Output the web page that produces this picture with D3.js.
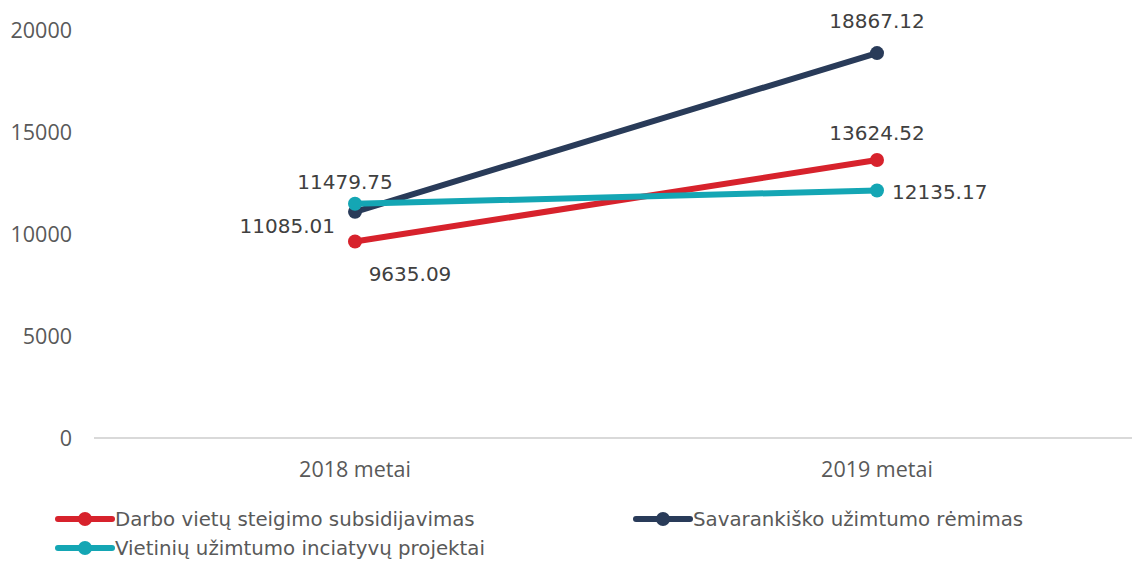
<!DOCTYPE html>
<html>
<head>
<meta charset="utf-8">
<script src="https://cdn.jsdelivr.net/npm/d3@7"></script>
<style>
  body { margin: 0; background: #fff; }
  .tick-label { font-family: "Open Sans", sans-serif; font-size: 21.5px; fill: #595959; }
  .data-label { font-family: "DejaVu Sans", sans-serif; font-size: 20px; fill: #404040; }
  .legend-label { font-family: "DejaVu Sans", sans-serif; font-size: 19.8px; fill: #595959; }
</style>
</head>
<body>
<svg id="chart" width="1132" height="562"></svg>
<script>
const years = ["2018 metai", "2019 metai"];
const seriesNames = [
    "Darbo vietų steigimo subsidijavimas",
    "Savarankiško užimtumo rėmimas",
    "Vietinių užimtumo inciatyvų projektai"
];
const darboValues = [9635.09, 13624.52];
const savarankiskoValues = [11085.01, 18867.12];
const vietiniuValues = [11479.75, 12135.17];
const yTicks = [0, 5000, 10000, 15000, 20000];

const colors = ["#d7222c", "#293b59", "#14a6b4"];

// label placement per series/point: [dx, dy] from the marker
const labelOffsets = [
    [[55, 33], [0, -27]],
    [[-20, 14], [0, -32]],
    [[-10, -22], [15, 2]]
];
const labelAnchors = [
    ["middle", "middle"],
    ["end", "middle"],
    ["middle", "start"]
];

const svg = d3.select("#chart"),
    margin = {top: 30, right: 0, bottom: 124, left: 94},
    width = +svg.attr("width") - margin.left - margin.right,
    height = +svg.attr("height") - margin.top - margin.bottom;

const g = svg.append("g").attr("transform", `translate(${margin.left},${margin.top})`);

const x = d3.scalePoint().domain(years).range([0, 1044]).padding(0.5);
const y = d3.scaleLinear().domain([0, 20000]).range([height, 0]);

// baseline
g.append("line")
    .attr("x1", 0)
    .attr("x2", width)
    .attr("y1", y(0))
    .attr("y2", y(0))
    .attr("stroke", "#d9d9d9")
    .attr("stroke-width", 2);

// y tick labels
g.selectAll(".y-tick")
    .data(yTicks)
    .join("text")
    .attr("class", "tick-label")
    .attr("x", -22)
    .attr("y", d => y(d))
    .attr("dy", "0.35em")
    .attr("text-anchor", "end")
    .text(d => d);

// x tick labels
g.selectAll(".x-tick")
    .data(years)
    .join("text")
    .attr("class", "tick-label")
    .attr("x", d => x(d))
    .attr("y", height + 31)
    .attr("dy", "0.35em")
    .attr("text-anchor", "middle")
    .text(d => d);

const series = [darboValues, savarankiskoValues, vietiniuValues].map((vals, i) => ({
    name: seriesNames[i],
    color: colors[i],
    points: vals.map((v, j) => ({year: years[j], value: v}))
}));

const line = d3.line()
    .x(d => x(d.year))
    .y(d => y(d.value));

// draw order: red, navy, teal on top
series.forEach((s, i) => {
    g.append("path")
        .datum(s.points)
        .attr("fill", "none")
        .attr("stroke", s.color)
        .attr("stroke-width", 6)
        .attr("stroke-linecap", "round")
        .attr("d", line);

    g.selectAll(".pt" + i)
        .data(s.points)
        .join("circle")
        .attr("cx", d => x(d.year))
        .attr("cy", d => y(d.value))
        .attr("r", 7)
        .attr("fill", s.color);
});

series.forEach((s, i) => {
    g.selectAll(".lbl" + i)
        .data(s.points)
        .join("text")
        .attr("class", "data-label")
        .attr("x", (d, j) => x(d.year) + labelOffsets[i][j][0])
        .attr("y", (d, j) => y(d.value) + labelOffsets[i][j][1])
        .attr("dy", "0.35em")
        .attr("text-anchor", (d, j) => labelAnchors[i][j])
        .text(d => d.value.toFixed(2));
});

// legend
const legendPos = [[58, 519], [636, 519], [58, 548]];
const legend = svg.append("g");
series.forEach((s, i) => {
    const [lx, ly] = legendPos[i];
    const item = legend.append("g").attr("transform", `translate(${lx},${ly})`);
    item.append("line")
        .attr("x1", 0).attr("x2", 54)
        .attr("y1", 0).attr("y2", 0)
        .attr("stroke", s.color)
        .attr("stroke-width", 6)
        .attr("stroke-linecap", "round");
    item.append("circle")
        .attr("cx", 27).attr("cy", 0).attr("r", 7)
        .attr("fill", s.color);
    item.append("text")
        .attr("class", "legend-label")
        .attr("x", 57)
        .attr("y", 0)
        .attr("dy", "0.35em")
        .text(s.name);
});
</script>
</body>
</html>
